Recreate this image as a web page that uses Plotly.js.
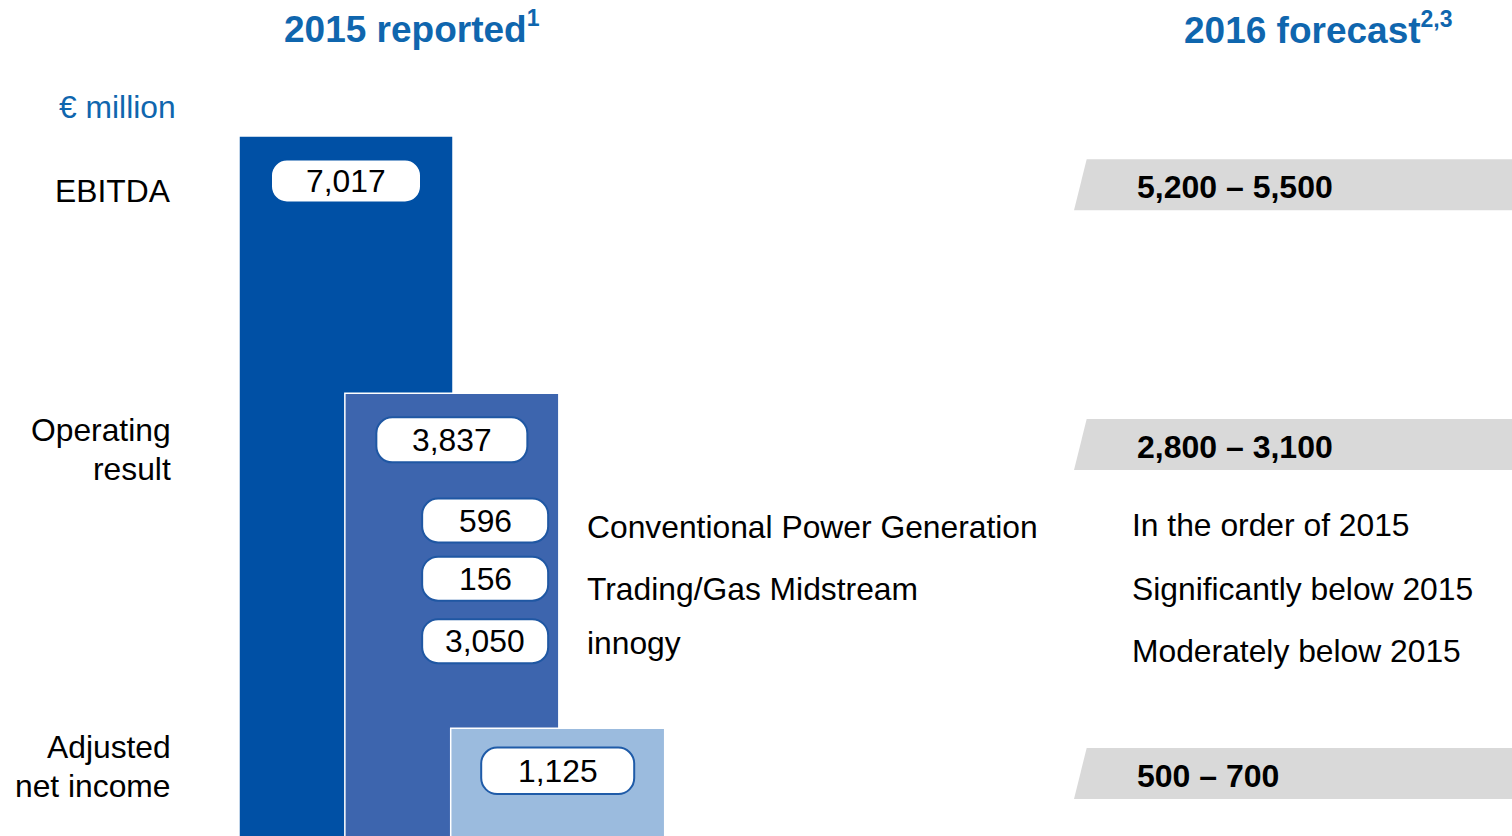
<!DOCTYPE html>
<html>
<head>
<meta charset="utf-8">
<script src="https://cdn.plot.ly/plotly-3.0.1.min.js"></script>
<style>
  html, body { margin: 0; padding: 0; background: #ffffff; overflow: hidden; }
  #chart { width: 1512px; height: 836px; }
</style>
</head>
<body>
<div id="chart"></div>
<script>
// ---------------- DATA ----------------
const categoryLabels = ['EBITDA', 'Operating<br>result', 'Adjusted<br>net income'];
const reported2015 = [7017, 3837, 1125];            // € million
const forecast2016Low = [5200, 2800, 500];          // € million
const forecast2016High = [5500, 3100, 700];         // € million
const segmentNames = ['Conventional Power Generation', 'Trading/Gas Midstream', 'innogy'];
const segmentReported2015 = [596, 156, 3050];       // operating result by segment, € million
const segmentOutlook2016 = ['In the order of 2015', 'Significantly below 2015', 'Moderately below 2015'];
const headerReported = '2015 reported';
const headerReportedNote = '1';
const headerForecast = '2016 forecast';
const headerForecastNote = '2,3';
const unitLabel = '€ million';

// ---------------- STYLE / LAYOUT ----------------
const W = 1512, H = 836;
const FONT = 'Liberation Sans, Arial, Helvetica, sans-serif';
const FS = 31.8;
const BLUE_TXT = '#0F66AE';
const barColors = ['#0050A5', '#3D65AE', '#9BBBDE'];
const pillBorder = ['#0050A5', '#1F57A3', '#1F5BA8'];
const px = v => v / W;
const py = v => 1 - v / H;
const fmt = n => n.toLocaleString('en-US');

// the reference draws bar heights on a square-root scale
const barHeight = reported2015.map(v => Math.sqrt(v));

// x: one unit per bar step (~105.85 px), bar 0 centred at 346 px
const STEP = 105.85, X0 = 346;
const xRange = [-X0 / STEP, (W - X0) / STEP];
const yRange = [24.41, 95.30];

const bars = {
  type: 'bar',
  x: reported2015.map((_, i) => i),
  y: barHeight,
  customdata: reported2015,
  hovertemplate: '%{customdata:,} € million<extra></extra>',
  width: 214 / STEP,
  marker: { color: barColors, line: { color: '#ffffff', width: 1.5 } },
  showlegend: false
};

function pillPath(cx, cy, w, h, r) {
  const k = 0.5523 * r;
  const x0 = cx - w / 2, x1 = cx + w / 2, y0 = cy - h / 2, y1 = cy + h / 2;
  const f = v => v.toFixed(2);
  return [
    `M${f(x0 + r)},${f(y0)}`,
    `L${f(x1 - r)},${f(y0)}`,
    `C${f(x1 - r + k)},${f(y0)} ${f(x1)},${f(y0 + r - k)} ${f(x1)},${f(y0 + r)}`,
    `L${f(x1)},${f(y1 - r)}`,
    `C${f(x1)},${f(y1 - r + k)} ${f(x1 - r + k)},${f(y1)} ${f(x1 - r)},${f(y1)}`,
    `L${f(x0 + r)},${f(y1)}`,
    `C${f(x0 + r - k)},${f(y1)} ${f(x0)},${f(y1 - r + k)} ${f(x0)},${f(y1 - r)}`,
    `L${f(x0)},${f(y0 + r)}`,
    `C${f(x0)},${f(y0 + r - k)} ${f(x0 + r - k)},${f(y0)} ${f(x0 + r)},${f(y0)}`,
    'Z'
  ].join(' ');
}

const shapes = [];
const annotations = [];

// value pills attached to the top of each bar
const pillDrop = [45, 46.5, 42.5];
const pillW = [150, 151, 153];
const pillH = [43, 45, 46.5];
reported2015.forEach((v, i) => {
  shapes.push({
    type: 'path', layer: 'above',
    xref: 'x', yref: 'y', xsizemode: 'pixel', ysizemode: 'pixel',
    xanchor: i, yanchor: barHeight[i],
    path: pillPath(0, -pillDrop[i], pillW[i], pillH[i], 16),
    fillcolor: '#ffffff',
    line: { color: pillBorder[i], width: 2 }
  });
  annotations.push({
    xref: 'x', yref: 'y', x: i, y: barHeight[i], yshift: -pillDrop[i],
    xanchor: 'center', yanchor: 'middle', showarrow: false,
    text: fmt(v), font: { family: FONT, size: FS, color: '#000000' }
  });
});

// segment pills inside the operating-result bar
const segY = [520.5, 578.7, 641.2];
const segTextY = [527, 588.5, 643];
const outlookTextY = [525, 588.5, 651];
segmentReported2015.forEach((v, i) => {
  shapes.push({
    type: 'path', layer: 'above',
    xref: 'x', yref: 'paper', xsizemode: 'pixel', ysizemode: 'pixel',
    xanchor: 1, yanchor: py(segY[i]),
    path: pillPath(33.3, 0, 126, 44, 16),
    fillcolor: '#ffffff',
    line: { color: pillBorder[1], width: 2 }
  });
  annotations.push({
    xref: 'x', yref: 'paper', x: 1, xshift: 33.3, y: py(segY[i]),
    xanchor: 'center', yanchor: 'middle', showarrow: false,
    text: fmt(v), font: { family: FONT, size: FS, color: '#000000' }
  });
  annotations.push({
    xref: 'paper', yref: 'paper', x: px(585), y: py(segTextY[i]),
    xanchor: 'left', yanchor: 'middle', showarrow: false,
    text: segmentNames[i], font: { family: FONT, size: FS, color: '#000000' }
  });
  annotations.push({
    xref: 'paper', yref: 'paper', x: px(1129.5), y: py(outlookTextY[i]),
    xanchor: 'left', yanchor: 'middle', showarrow: false,
    text: segmentOutlook2016[i], font: { family: FONT, size: FS, color: '#000000' }
  });
});

// row labels on the left
const rowCenters = [191, 449.5, 766.5];
const lineGap = 38.5;
categoryLabels.forEach((lab, i) => {
  const lines = lab.split('<br>');
  lines.forEach((ln, j) => {
    const yc = rowCenters[i] + (j - (lines.length - 1) / 2) * lineGap;
    annotations.push({
      xref: 'paper', yref: 'paper', x: px(173), y: py(yc),
      xanchor: 'right', yanchor: 'middle', showarrow: false,
      text: ln, font: { family: FONT, size: FS, color: '#000000' }
    });
  });
});

// forecast bands on the right
const bandTop = [159.3, 419, 748];
const bandH = 51;
const bandSlant = 12.7;
forecast2016Low.forEach((lo, i) => {
  const t = bandTop[i], b = bandTop[i] + bandH;
  shapes.push({
    type: 'path', layer: 'below', xref: 'paper', yref: 'paper',
    path: `M${px(1074 + bandSlant)},${py(t)} L1.01,${py(t)} L1.01,${py(b)} L${px(1074)},${py(b)} Z`,
    fillcolor: '#D9D9D9', line: { width: 0 }
  });
  annotations.push({
    xref: 'paper', yref: 'paper', x: px(1135), y: py(t + bandH / 2 + 2),
    xanchor: 'left', yanchor: 'middle', showarrow: false,
    text: fmt(lo) + ' – ' + fmt(forecast2016High[i]),
    font: { family: FONT, size: 32, color: '#000000', weight: 'bold' }
  });
});

// headers
const supSpan = s => '<sup><span style="font-size:23px">' + s + '</span></sup>';
annotations.push({
  xref: 'paper', yref: 'paper', x: px(282), y: py(27),
  xanchor: 'left', yanchor: 'middle', showarrow: false,
  text: headerReported + supSpan(headerReportedNote),
  font: { family: FONT, size: 37, color: BLUE_TXT, weight: 'bold' }
});
annotations.push({
  xref: 'paper', yref: 'paper', x: px(1182), y: py(29),
  xanchor: 'left', yanchor: 'middle', showarrow: false,
  text: headerForecast + supSpan(headerForecastNote),
  font: { family: FONT, size: 37, color: BLUE_TXT, weight: 'bold' }
});
annotations.push({
  xref: 'paper', yref: 'paper', x: px(178), y: py(106.5),
  xanchor: 'right', yanchor: 'middle', showarrow: false,
  text: unitLabel,
  font: { family: FONT, size: FS, color: BLUE_TXT }
});

const layout = {
  width: W, height: H,
  margin: { l: 0, r: 0, t: 0, b: 0, pad: 0 },
  paper_bgcolor: '#ffffff', plot_bgcolor: '#ffffff',
  barmode: 'overlay',
  xaxis: { range: xRange, visible: false, fixedrange: true },
  yaxis: { range: yRange, visible: false, fixedrange: true },
  shapes: shapes,
  annotations: annotations,
  font: { family: FONT },
  showlegend: false
};

Plotly.newPlot('chart', [bars], layout, { staticPlot: true, displayModeBar: false });
</script>
</body>
</html>
